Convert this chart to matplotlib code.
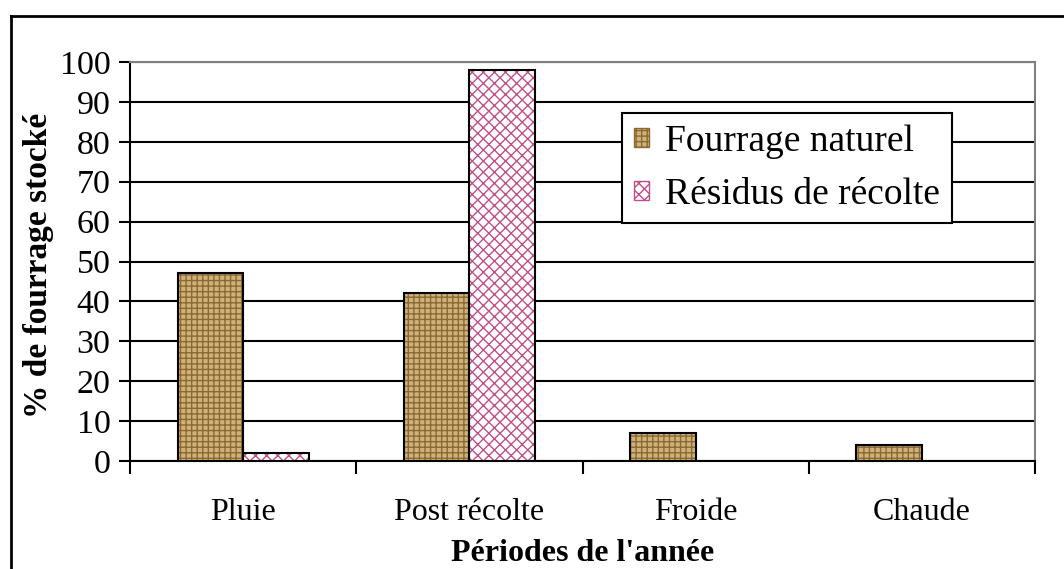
import numpy as np
import matplotlib
matplotlib.use('Agg')
import matplotlib.pyplot as plt
from matplotlib.lines import Line2D
from matplotlib.patches import Patch

plt.rcParams['font.family'] = ['Liberation Serif', 'DejaVu Serif']
plt.rcParams['hatch.linewidth'] = 1.0

# Donnees
periodes = ['Pluie', 'Post récolte', 'Froide', 'Chaude']
fourrage_naturel = [47, 42, 7, 4]
residus_recolte = [2, 98, 0, 0]
series_noms = ['Fourrage naturel', 'Résidus de récolte']

fig = plt.figure(figsize=(10.64, 5.69), dpi=100)
ax = fig.add_axes([130/1064, 1-461/569, 905/1064, 399/569])

x = np.arange(len(periodes))
w = 0.29

# Fourrage naturel: fond beige + motif
ax.bar(x - w/2, fourrage_naturel, w, color='#cfb27a', edgecolor='#8a6a32',
       hatch='+++', linewidth=0, zorder=3)
ax.bar(x - w/2, fourrage_naturel, w, fill=False, edgecolor='black',
       linewidth=1.5, zorder=4)

# Residus de recolte: fond blanc + motif rose
idx = [i for i, v in enumerate(residus_recolte) if v > 0]
xr = x[idx] + w/2
vr = [residus_recolte[i] for i in idx]
ax.bar(xr, vr, w, color='white', edgecolor='#c0508a', hatch='xxx',
       linewidth=0, zorder=3)
ax.bar(xr, vr, w, fill=False, edgecolor='black', linewidth=1.5, zorder=4)

ax.set_xlim(-0.5, len(periodes) - 0.5)
ax.set_ylim(0, 100)
ax.set_yticks(range(0, 101, 10))
ax.yaxis.grid(True, color='black', linewidth=1.5, zorder=1)
ax.set_axisbelow(True)

ax.set_xticks(x)
ax.set_xticklabels(periodes, fontsize=23)
ax.set_xticks(np.arange(-0.5, len(periodes)), minor=True)
ax.tick_params(axis='x', which='major', length=0, pad=27)
ax.tick_params(axis='x', which='minor', length=9, width=1.5, direction='out')
ax.tick_params(axis='y', labelsize=24.5, length=8, width=1.5, direction='out', pad=6)

for s in ['top', 'right']:
    ax.spines[s].set_color('#808080')
    ax.spines[s].set_linewidth(1.5)
for s in ['left', 'bottom']:
    ax.spines[s].set_color('black')
    ax.spines[s].set_linewidth(1.5)

ax.set_ylabel('% de fourrage stocké', fontsize=24, fontweight='bold')
ax.yaxis.set_label_coords(-0.084, 0.49)
ax.set_xlabel("Périodes de l'année", fontsize=23, fontweight='bold')
ax.xaxis.set_label_coords(0.5, -0.195)

handles = [Patch(facecolor='#cfb27a', edgecolor='#8a6a32', hatch='+++'),
           Patch(facecolor='white', edgecolor='#c0508a', hatch='xxx')]
leg = ax.legend(handles, series_noms, loc='upper left', bbox_to_anchor=(0.544, 0.872),
                fontsize=27, frameon=True, fancybox=False, framealpha=1,
                handlelength=0.4, handleheight=0.4, handletextpad=0.45,
                borderpad=0.3, labelspacing=0.5, borderaxespad=0)
leg.get_frame().set_edgecolor('black')
leg.get_frame().set_linewidth(1.5)

# Cadre exterieur
fig.add_artist(Line2D([11/1064, 11/1064], [1-16/569, 0], color='black', linewidth=2,
                      transform=fig.transFigure))
fig.add_artist(Line2D([11/1064, 1], [1-16/569, 1-16/569], color='black', linewidth=2,
                      transform=fig.transFigure))

fig.savefig('out.png', dpi=100)
